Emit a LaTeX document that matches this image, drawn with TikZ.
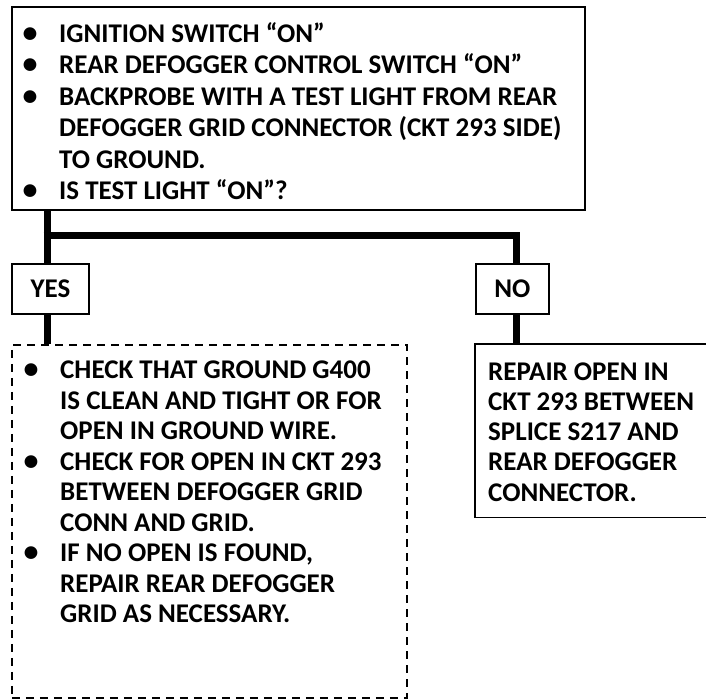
\documentclass[tikz,border=0pt]{standalone}
\usepackage{fontspec}
\setmainfont{Carlito}
\begin{document}
\begin{tikzpicture}[x=1pt,y=-1pt,
  frame/.style={draw, line width=1.8pt, inner sep=0pt, anchor=north west},
  dframe/.style={draw, line width=1.8pt, dash pattern=on 8pt off 6pt, inner sep=0pt, anchor=north west},
  txt/.style={anchor=base west, inner sep=0pt, font=\fontsize{27}{27}\selectfont\bfseries},
  bul/.style={anchor=base, inner sep=0pt, font=\fontsize{30}{30}\selectfont\bfseries},
  lbl/.style={frame, font=\fontsize{27}{27}\selectfont\bfseries},
  conn/.style={line width=7pt},
  side/.style={line width=1.8pt}]
\useasboundingbox (0,0) rectangle (706,700);
% boxes
\node[frame, minimum width=573pt, minimum height=203pt] (top) at (11,6) {};
\node[lbl, minimum width=77pt, minimum height=50pt] (yes) at (11,263) {YES};
\node[lbl, minimum width=73pt, minimum height=50pt] (no) at (475,263) {NO};
\node[dframe, minimum width=395pt, minimum height=353pt] (left) at (11,344) {};
\node[inner sep=0pt, anchor=north west, minimum width=240pt, minimum height=173pt] (right) at (475,344) {};
\draw[side] (right.north east) -- (right.north west) -- (right.south west) -- (right.south east);
% connectors
\coordinate (lx) at (47,236);
\coordinate (rx) at (516,236);
\draw[conn] (top.south -| lx) -- (yes.north -| lx);
\draw[conn] ([xshift=-3.5pt]lx) -| (no.north -| rx);
\draw[conn] (yes.south -| lx) -- (left.north -| lx);
\draw[conn] (no.south -| rx) -- (right.north -| rx);
% top text
\node[bul] (b1) at (30,42.5) {•};
\node[txt] (t1) at (59,42.5) {IGNITION SWITCH “ON”};
\node[bul] (b2) at (30,73.9) {•};
\node[txt] (t2) at (59,73.9) {REAR DEFOGGER CONTROL SWITCH “ON”};
\node[bul] (b3) at (30,105.3) {•};
\node[txt] (t3) at (59,105.3) {BACKPROBE WITH A TEST LIGHT FROM REAR};
\node[txt] (t4) at (59,136.7) {DEFOGGER GRID CONNECTOR (CKT 293 SIDE)};
\node[txt] (t5) at (59,168.1) {TO GROUND.};
\node[bul] (b6) at (30,199.5) {•};
\node[txt] (t6) at (59,199.5) {IS TEST LIGHT “ON”?};
% left text
\node[bul] (c1) at (31,378.5) {•};
\node[txt] (l1) at (60,378.5) {CHECK THAT GROUND G400};
\node[txt] (l2) at (60,409) {IS CLEAN AND TIGHT OR FOR};
\node[txt] (l3) at (60,439.5) {OPEN IN GROUND WIRE.};
\node[bul] (c4) at (31,470) {•};
\node[txt] (l4) at (60,470) {CHECK FOR OPEN IN CKT 293};
\node[txt] (l5) at (60,500.5) {BETWEEN DEFOGGER GRID};
\node[txt] (l6) at (60,531) {CONN AND GRID.};
\node[bul] (c7) at (31,561.5) {•};
\node[txt] (l7) at (60,561.5) {IF NO OPEN IS FOUND,};
\node[txt] (l8) at (60,592) {REPAIR REAR DEFOGGER};
\node[txt] (l9) at (60,622.5) {GRID AS NECESSARY.};
% right text
\node[txt] (r1) at (488,380.5) {REPAIR OPEN IN};
\node[txt] (r2) at (488,410.5) {CKT 293 BETWEEN};
\node[txt] (r3) at (488,440.5) {SPLICE S217 AND};
\node[txt] (r4) at (488,470.5) {REAR DEFOGGER};
\node[txt] (r5) at (488,501) {CONNECTOR.};
\end{tikzpicture}
\end{document}
